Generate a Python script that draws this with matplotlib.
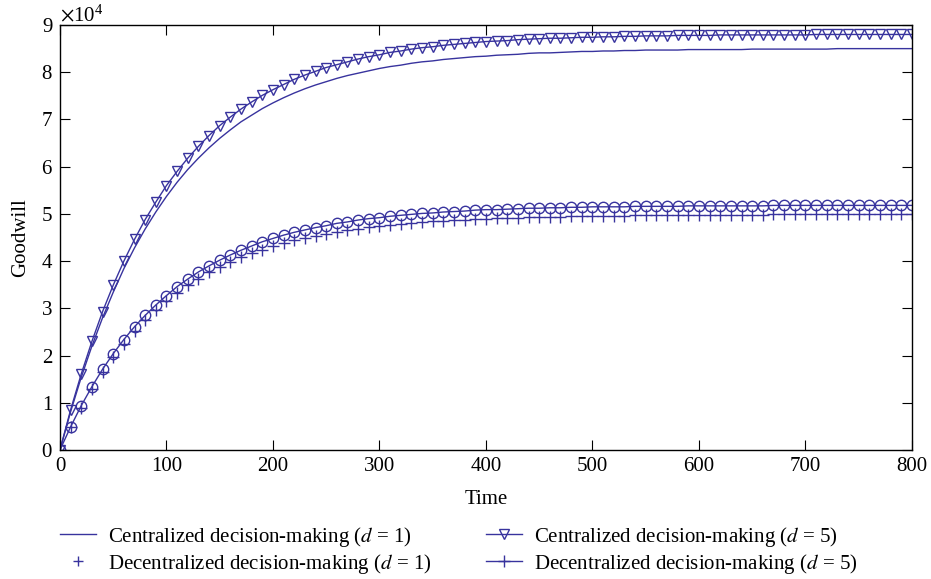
import numpy as np
import matplotlib
matplotlib.use("Agg")
import matplotlib.pyplot as plt
from matplotlib.lines import Line2D

plt.rcParams.update({
    "font.family": ["Liberation Serif", "DejaVu Serif"],
    "mathtext.fontset": "stix",
    "font.size": 15,
    "axes.linewidth": 1.0,
})

# sampling instants (every 10 time units)
time = np.arange(0, 810, 10)

# goodwill, in units of 10^4
cent_d1 = [0.00, 0.81, 1.54, 2.20, 2.80, 3.34, 3.84, 4.28, 4.68, 5.04,
           5.37, 5.67, 5.94, 6.18, 6.40, 6.60, 6.78, 6.95, 7.09, 7.23,
           7.35, 7.46, 7.56, 7.65, 7.73, 7.80, 7.87, 7.93, 7.98, 8.03,
           8.08, 8.12, 8.15, 8.19, 8.22, 8.24, 8.27, 8.29, 8.31, 8.33,
           8.34, 8.36, 8.37, 8.38, 8.40, 8.41, 8.41, 8.42, 8.43, 8.44,
           8.44, 8.45, 8.45, 8.46, 8.46, 8.47, 8.47, 8.47, 8.47, 8.48,
           8.48, 8.48, 8.48, 8.48, 8.48, 8.49, 8.49, 8.49, 8.49, 8.49,
           8.49, 8.49, 8.49, 8.50, 8.50, 8.50, 8.50, 8.50, 8.50, 8.50,
           8.50]
cent_d5 = [0.00, 0.85, 1.61, 2.30, 2.93, 3.49, 4.00, 4.46, 4.88, 5.25,
           5.60, 5.90, 6.18, 6.43, 6.66, 6.87, 7.05, 7.22, 7.37, 7.51,
           7.63, 7.74, 7.85, 7.94, 8.02, 8.10, 8.16, 8.22, 8.28, 8.33,
           8.37, 8.42, 8.45, 8.49, 8.52, 8.54, 8.57, 8.59, 8.61, 8.63,
           8.65, 8.66, 8.67, 8.69, 8.70, 8.71, 8.72, 8.72, 8.73, 8.74,
           8.74, 8.75, 8.75, 8.76, 8.76, 8.77, 8.77, 8.77, 8.78, 8.78,
           8.78, 8.78, 8.79, 8.79, 8.79, 8.79, 8.79, 8.79, 8.79, 8.79,
           8.79, 8.80, 8.80, 8.80, 8.80, 8.80, 8.80, 8.80, 8.80, 8.80,
           8.80]
decent_d1 = [0.00, 0.48, 0.90, 1.29, 1.65, 1.96, 2.25, 2.51, 2.75, 2.96,
             3.15, 3.33, 3.49, 3.63, 3.76, 3.88, 3.98, 4.08, 4.17, 4.24,
             4.31, 4.38, 4.44, 4.49, 4.54, 4.58, 4.62, 4.65, 4.69, 4.72,
             4.74, 4.77, 4.79, 4.81, 4.82, 4.84, 4.85, 4.87, 4.88, 4.89,
             4.90, 4.91, 4.92, 4.92, 4.93, 4.93, 4.94, 4.94, 4.95, 4.95,
             4.96, 4.96, 4.96, 4.96, 4.97, 4.97, 4.97, 4.97, 4.97, 4.98,
             4.98, 4.98, 4.98, 4.98, 4.98, 4.98, 4.98, 4.99, 4.99, 4.99,
             4.99, 4.99, 4.99, 4.99, 4.99, 4.99, 4.99, 4.99, 4.99, 4.99,
             4.99]
decent_d5 = [0.00, 0.49, 0.94, 1.34, 1.71, 2.04, 2.34, 2.61, 2.85, 3.07,
             3.27, 3.46, 3.62, 3.77, 3.90, 4.02, 4.13, 4.23, 4.32, 4.41,
             4.48, 4.55, 4.61, 4.66, 4.71, 4.75, 4.80, 4.83, 4.87, 4.90,
             4.92, 4.95, 4.97, 4.99, 5.01, 5.02, 5.04, 5.05, 5.06, 5.08,
             5.09, 5.09, 5.10, 5.11, 5.12, 5.12, 5.13, 5.13, 5.14, 5.14,
             5.15, 5.15, 5.15, 5.15, 5.16, 5.16, 5.16, 5.16, 5.16, 5.17,
             5.17, 5.17, 5.17, 5.17, 5.17, 5.17, 5.17, 5.18, 5.18, 5.18,
             5.18, 5.18, 5.18, 5.18, 5.18, 5.18, 5.18, 5.18, 5.18, 5.18,
             5.18]

labels = ["Centralized decision-making ($d$ = 1)",
          "Decentralized decision-making ($d$ = 1)",
          "Centralized decision-making ($d$ = 5)",
          "Decentralized decision-making ($d$ = 5)"]

col = "#38339e"
scale = 1e4

fig = plt.figure(figsize=(9.31, 5.79), dpi=100)
ax = fig.add_axes([0.0644, 0.2228, 0.9151, 0.734])

ax.plot(time, np.array(cent_d1) * scale, color=col, lw=1.0)
ax.plot(time, np.array(cent_d5) * scale, color=col, lw=1.0, marker="v",
        ms=7, mfc="none", mew=1.0)
ax.plot(time, np.array(decent_d5) * scale, color=col, lw=1.0, marker="o",
        ms=7.5, mfc="none", mew=1.0)
ax.plot(time, np.array(decent_d1) * scale, color=col, lw=0, marker="+",
        ms=8, mew=1.0)

ax.set_xlim(0, 800)
ax.set_ylim(0, 9e4)
ax.set_xticks(range(0, 801, 100))
ax.set_yticks(np.arange(0, 9.1, 1) * scale)
ax.ticklabel_format(axis="y", style="sci", scilimits=(4, 4), useMathText=True)
ax.yaxis.get_offset_text().set_fontsize(15)
ax.tick_params(direction="in", top=True, right=True, length=7, width=0.8,
               labelsize=15, pad=5)
ax.set_xlabel("Time", fontsize=15, labelpad=10)
ax.set_ylabel("Goodwill", fontsize=15, labelpad=8)

handles = [
    Line2D([], [], color=col, lw=1.0),
    Line2D([], [], color=col, lw=0, marker="+", ms=7, mew=1.0),
    Line2D([], [], color=col, lw=1.0, marker="v", ms=7, mfc="none", mew=1.0),
    Line2D([], [], color=col, lw=1.0, marker="+", ms=9, mew=1.0),
]
fig.legend(handles, labels, ncol=2, frameon=False, fontsize=15,
           loc="upper left", bbox_to_anchor=(0.0537, 0.112), borderpad=0,
           handlelength=1.7, columnspacing=2.62, labelspacing=0.15,
           handletextpad=0.6)

fig.savefig("out.png", dpi=100)
